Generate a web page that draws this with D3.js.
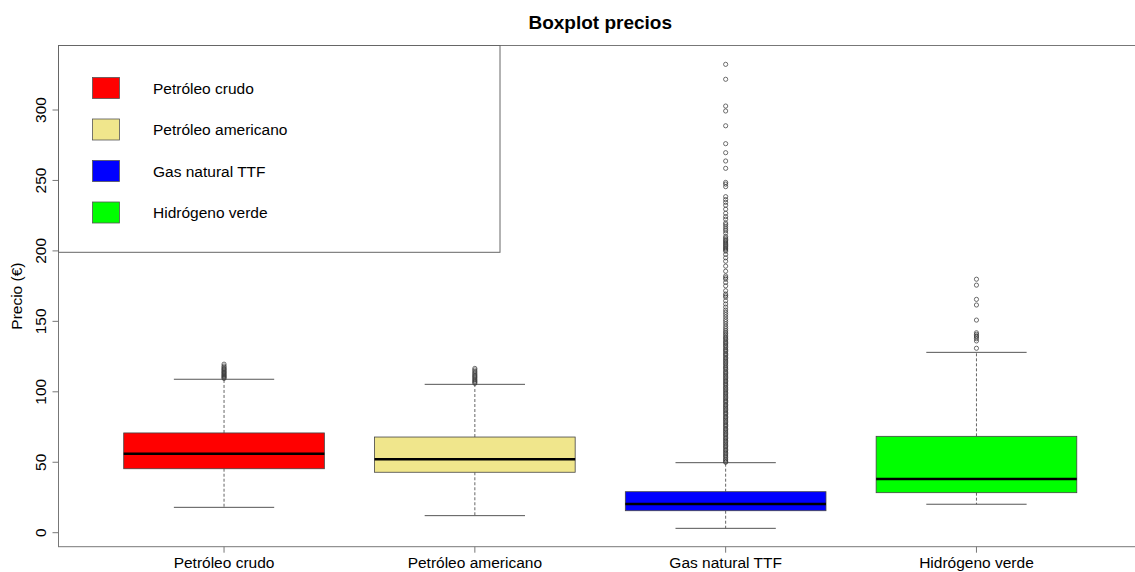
<!DOCTYPE html>
<html>
<head>
<meta charset="utf-8">
<script src="https://cdn.jsdelivr.net/npm/d3@7"></script>
<style>
  body { margin: 0; background: #fff; }
  svg { display: block; font-family: "Liberation Sans", Arial, sans-serif; }
</style>
</head>
<body>
<svg id="chart" width="1135" height="572"></svg>
<script>
// Series names and box colours
const categories = ['Petróleo crudo', 'Petróleo americano', 'Gas natural TTF', 'Hidrógeno verde'];
const fills = ['#ff0000', '#f0e68c', '#0000ff', '#00ff00'];

// Five-number summaries (€)
const whiskerLow = [18.0, 12.1, 3.1, 20.2];
const q1 = [45.4, 42.9, 15.6, 28.4];
const medians = [56.1, 52.1, 20.4, 38.1];
const q3 = [70.8, 67.9, 29.1, 68.4];
const whiskerHigh = [108.9, 105.3, 49.7, 128.0];

// Outliers per series
const outCrudo = [109.5, 110.2, 110.8, 111.5, 112.1, 112.9, 113.6, 114.2, 115.0, 115.8, 116.5, 117.4, 118.3, 119.6];
const outAmericano = [106.0, 106.8, 107.5, 108.3, 109.1, 110.0, 110.8, 111.6, 112.5, 113.4, 114.4, 115.5, 116.6];
const outGas = [332.4, 321.8, 302.8, 299.3, 288.8, 276.1, 269.7, 263.8, 258.6, 248.6, 247.4, 245.6,
  238.5, 236.4, 234.5, 232.4, 229.6, 226.7, 224.3, 222.5, 219.8, 218.6, 217.1, 215.6, 214.3, 212.6,
  210.2, 209.1, 208.0, 207.2, 206.3, 205.5, 204.6, 203.8, 203.0, 202.1, 201.4, 200.6, 199.8, 197.5,
  195.1, 192.7, 189.2, 185.6, 182.2, 181.0, 179.9, 177.6, 175.2, 171.7, 169.4, 168.2, 167.1, 164.6,
  162.3, 160.1, 158.0, 156.4, 154.8, 153.1, 151.3, 149.8, 148.2, 146.5, 145.0, 143.6,
  142.4, 141.3, 140.2, 139.0, 138.1, 137.2, 136.0, 135.1, 134.3, 133.2, 132.4, 131.3, 130.2, 129.4,
  128.5, 127.3, 126.5, 125.6, 124.4, 123.6, 122.5, 121.7, 120.6, 119.8, 118.7, 117.6, 116.8, 115.9,
  114.7, 113.8, 113.0, 111.9, 111.1, 110.0, 109.2, 108.1, 107.3, 106.2, 105.4, 104.5, 103.3, 102.6,
  101.5, 100.7, 99.6, 98.8, 97.7, 96.9, 95.8, 95.0, 93.9, 93.1, 92.2, 91.0, 90.3, 89.2, 88.4, 87.3,
  86.5, 85.4, 84.6, 83.7, 82.5, 81.8, 80.7, 79.9, 78.8, 78.0, 76.9, 76.1, 75.2, 74.0, 73.3, 72.2,
  71.4, 70.3, 69.5, 68.6, 67.4, 66.7, 65.6, 64.8, 63.7, 62.9, 61.8, 61.0, 60.1, 58.9, 58.2, 57.1,
  56.3, 55.2, 54.4, 53.5, 52.3, 51.6, 50.5, 50.0];
const outHidrogeno = [179.9, 175.7, 165.6, 161.6, 150.9, 141.9, 140.8, 139.7, 138.9, 137.7, 136.1, 130.9];
const outliers = [outCrudo, outAmericano, outGas, outHidrogeno];

const yTicks = [0, 50, 100, 150, 200, 250, 300];

const svg = d3.select('#chart');
const fs = 15.5;

// R-like user coordinates: positions 1..4, xlim 0.5..4.5 padded 4%
const x = d3.scaleLinear().domain([0.34, 4.66]).range([58.5, 1142]);
const y = d3.scaleLinear().domain([0, 300]).range([532.7, 110]);
const frameTop = 45.5, frameBottom = 546.7;
const unit = x(2) - x(1);
const boxW = unit * 0.8;

const series = categories.map((c, i) => ({
  name: c, pos: i + 1, fill: fills[i],
  lo: whiskerLow[i], q1: q1[i], med: medians[i], q3: q3[i], hi: whiskerHigh[i], out: outliers[i]
}));

const g = svg.selectAll('g.box').data(series).enter().append('g').attr('class', 'box');

// whiskers (dashed)
g.append('line')
  .attr('x1', d => x(d.pos)).attr('x2', d => x(d.pos))
  .attr('y1', d => y(d.q3)).attr('y2', d => y(d.hi))
  .attr('stroke', '#666').attr('stroke-dasharray', '3,2');
g.append('line')
  .attr('x1', d => x(d.pos)).attr('x2', d => x(d.pos))
  .attr('y1', d => y(d.q1)).attr('y2', d => y(d.lo))
  .attr('stroke', '#666').attr('stroke-dasharray', '3,2');

// staples
['hi', 'lo'].forEach(k => {
  g.append('line')
    .attr('x1', d => x(d.pos) - boxW / 4).attr('x2', d => x(d.pos) + boxW / 4)
    .attr('y1', d => y(d[k])).attr('y2', d => y(d[k]))
    .attr('stroke', '#555');
});

// boxes
g.append('rect')
  .attr('x', d => x(d.pos) - boxW / 2)
  .attr('width', boxW)
  .attr('y', d => y(d.q3))
  .attr('height', d => y(d.q1) - y(d.q3))
  .attr('fill', d => d.fill)
  .attr('stroke', '#444').attr('stroke-width', 0.8);

// medians
g.append('line')
  .attr('x1', d => x(d.pos) - boxW / 2).attr('x2', d => x(d.pos) + boxW / 2)
  .attr('y1', d => y(d.med)).attr('y2', d => y(d.med))
  .attr('stroke', '#000').attr('stroke-width', 2.5);

// outliers
g.selectAll('circle')
  .data(d => d.out.map(v => ({ pos: d.pos, v })))
  .enter().append('circle')
  .attr('cx', d => x(d.pos)).attr('cy', d => y(d.v))
  .attr('r', 2.1)
  .attr('fill', 'none').attr('stroke', '#333').attr('stroke-width', 0.7);

// frame
svg.append('rect')
  .attr('x', x.range()[0]).attr('y', frameTop)
  .attr('width', x.range()[1] - x.range()[0]).attr('height', frameBottom - frameTop)
  .attr('fill', 'none').attr('stroke', '#777');

// y axis
const yAxis = svg.append('g').attr('font-size', fs).attr('fill', '#000');
yAxis.selectAll('line').data(yTicks).enter().append('line')
  .attr('x1', x.range()[0] - 6).attr('x2', x.range()[0])
  .attr('y1', d => y(d)).attr('y2', d => y(d))
  .attr('stroke', '#777');
yAxis.selectAll('text').data(yTicks).enter().append('text')
  .attr('transform', d => `translate(45.5,${y(d)}) rotate(-90)`)
  .attr('text-anchor', 'middle')
  .text(d => d);

// x axis
const xAxis = svg.append('g').attr('font-size', fs);
xAxis.selectAll('line').data(series).enter().append('line')
  .attr('x1', d => x(d.pos)).attr('x2', d => x(d.pos))
  .attr('y1', frameBottom).attr('y2', frameBottom + 6)
  .attr('stroke', '#777');
xAxis.selectAll('text').data(series).enter().append('text')
  .attr('x', d => x(d.pos)).attr('y', 568)
  .attr('text-anchor', 'middle')
  .text(d => d.name);

// axis title
svg.append('text')
  .attr('transform', `translate(22,${(frameTop + frameBottom) / 2}) rotate(-90)`)
  .attr('text-anchor', 'middle').attr('font-size', fs)
  .text('Precio (€)');

// title
svg.append('text')
  .attr('x', (x.range()[0] + x.range()[1]) / 2).attr('y', 29)
  .attr('text-anchor', 'middle').attr('font-size', 19).attr('font-weight', 'bold')
  .text('Boxplot precios');

// legend
const legend = svg.append('g');
legend.append('rect')
  .attr('x', x.range()[0]).attr('y', frameTop)
  .attr('width', 500 - x.range()[0]).attr('height', 252.3 - frameTop)
  .attr('fill', '#fff').attr('stroke', '#666');
const rowY = d3.scaleLinear().domain([0, 3]).range([88, 212.5]);
const item = legend.selectAll('g.item').data(series).enter().append('g').attr('class', 'item')
  .attr('transform', (d, i) => `translate(0,${rowY(i)})`);
item.append('rect')
  .attr('x', 92.5).attr('y', -10.5).attr('width', 27).attr('height', 21)
  .attr('fill', d => d.fill).attr('stroke', '#555').attr('stroke-width', 0.8);
item.append('text')
  .attr('x', 153).attr('y', 5.5).attr('font-size', fs)
  .text(d => d.name);
</script>
</body>
</html>
